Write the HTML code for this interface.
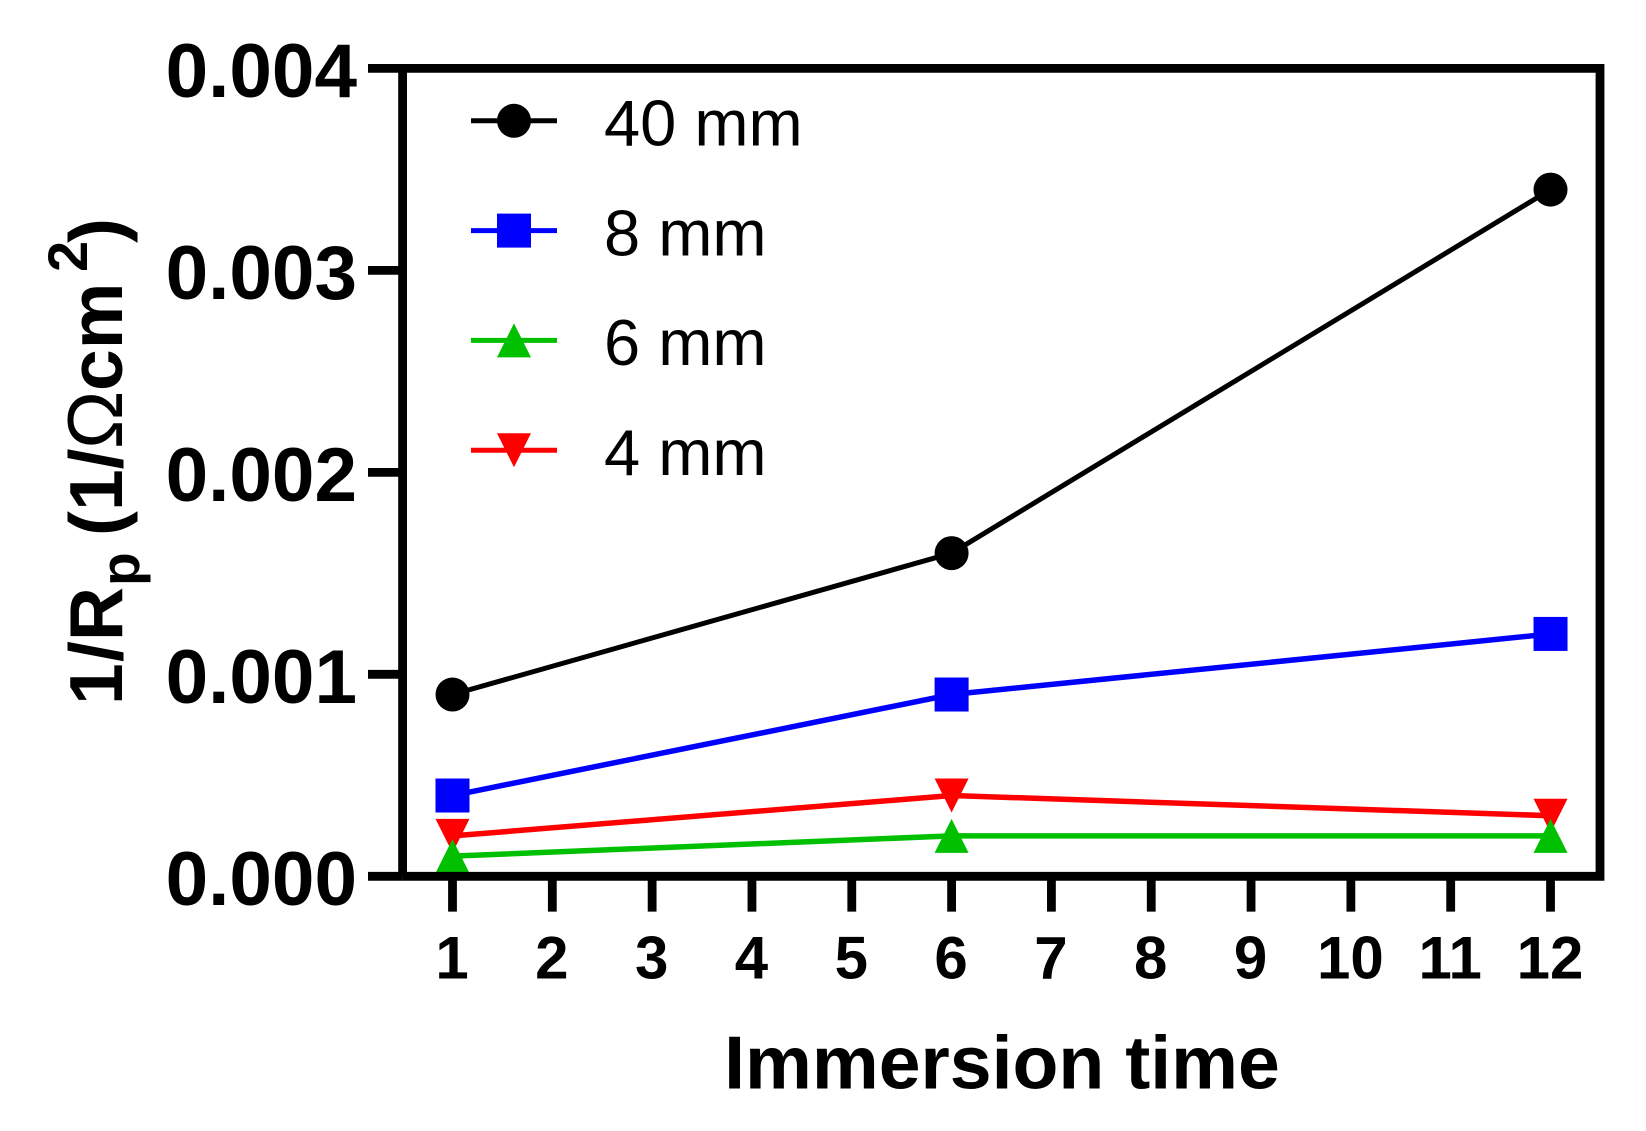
<!DOCTYPE html>
<html lang="en">
<head>
<meta charset="utf-8">
<title>1/Rp vs immersion time</title>
<style>
html,body{margin:0;padding:0;background:#fff;}
svg{display:block;font-family:"Liberation Sans",Arial,sans-serif;}
</style>
</head>
<body>
<svg id="chart" xmlns="http://www.w3.org/2000/svg" width="1646" height="1131" viewBox="0 0 1646 1131">
  <rect x="0" y="0" width="1646" height="1131" fill="#ffffff"/>
  <g id="series-layer"></g>
  <g id="axis-layer"></g>
  <g id="legend-layer"></g>
  <text x="1002" y="1088.5" font-size="75.2" font-weight="bold" text-anchor="middle" fill="#000">Immersion time</text>
  <text transform="translate(122,707) rotate(-90)" font-size="75" font-weight="bold" fill="#000"><tspan x="2" y="0">1</tspan><tspan x="45" y="0">/R</tspan><tspan x="121" y="17" font-size="55">p</tspan><tspan x="171" y="0">(1/</tspan><tspan x="258" y="0" font-weight="normal" font-size="78">Ω</tspan><tspan x="316" y="0">cm</tspan><tspan x="435" y="-35" font-size="56">2</tspan><tspan x="464" y="0">)</tspan></text>
</svg>
<script>
const xTickLabels = ["1","2","3","4","5","6","7","8","9","10","11","12"];
const yTickLabels = ["0.000","0.001","0.002","0.003","0.004"];
const yTickValues = [0, 0.001, 0.002, 0.003, 0.004];
const times = [1, 6, 12];
const seriesNames = ["40 mm", "8 mm", "6 mm", "4 mm"];
const values40mm = [0.0009, 0.0016, 0.0034];
const values8mm = [0.0004, 0.0009, 0.0012];
const values6mm = [0.0001, 0.0002, 0.0002];
const values4mm = [0.0002, 0.0004, 0.0003];

const NS = "http://www.w3.org/2000/svg";
const plot = {left: 402.6, right: 1600, top: 68.4, bottom: 876.3};
const xFirst = 452.5, xStep = 99.82;
function xScale(v){ return xFirst + (v - 1) * xStep; }
function yScale(v){ return plot.bottom - (v / 0.004) * (plot.bottom - plot.top); }

function make(tag, attrs, parent){
  const el = document.createElementNS(NS, tag);
  for (const k in attrs) el.setAttribute(k, attrs[k]);
  parent.appendChild(el);
  return el;
}

function marker(kind, cx, cy, color, parent){
  const r = 17;
  let el;
  if (kind === "circle") {
    el = make("circle", {cx: cx, cy: cy, r: r, fill: color}, parent);
  } else if (kind === "square") {
    el = make("rect", {x: cx - r, y: cy - r, width: 2 * r, height: 2 * r, fill: color}, parent);
  } else if (kind === "up") {
    el = make("polygon", {points: `${cx},${cy - r} ${cx + r},${cy + r} ${cx - r},${cy + r}`, fill: color}, parent);
  } else {
    el = make("polygon", {points: `${cx - r},${cy - r} ${cx + r},${cy - r} ${cx},${cy + r}`, fill: color}, parent);
  }
  return el;
}

const styles = {
  "40 mm": {values: values40mm, color: "#000000", kind: "circle", width: 5},
  "8 mm": {values: values8mm, color: "#0000ff", kind: "square", width: 5.5},
  "6 mm": {values: values6mm, color: "#00c000", kind: "up", width: 5.5},
  "4 mm": {values: values4mm, color: "#ff0000", kind: "down", width: 5.5}
};

/* series: red is painted before green, as in the reference */
const seriesLayer = document.getElementById("series-layer");
["40 mm", "8 mm", "4 mm", "6 mm"].forEach(function(name){
  const s = styles[name];
  const g = make("g", {}, seriesLayer);
  
  
  const pts = s.values.map(function(v, i){ return xScale(times[i]) + "," + yScale(v); }).join(" ");
  const line = make("polyline", {points: pts, fill: "none", stroke: s.color, "stroke-width": s.width}, g);
  
  
  s.values.forEach(function(v, i){
    const m = marker(s.kind, xScale(times[i]), yScale(v), s.color, g);
    
    
  });
});

/* axes */
const axisLayer = document.getElementById("axis-layer");
const frame = make("path", {
  d: `M${plot.left} ${plot.bottom}V${plot.top}H${plot.right}V${plot.bottom}H${plot.left}`,
  fill: "none", stroke: "#000", "stroke-width": 8.8
}, axisLayer);



yTickValues.forEach(function(v, i){
  const y = yScale(v);
  const t = make("line", {x1: 368, x2: plot.left, y1: y, y2: y, stroke: "#000", "stroke-width": 8.8}, axisLayer);
  
  
  const lab = make("text", {x: 357, y: y + 28.5, "font-size": 76.5, "font-weight": "bold", "text-anchor": "end", fill: "#000"}, axisLayer);
  lab.textContent = yTickLabels[i];
  
  
});

xTickLabels.forEach(function(label, i){
  const x = xScale(i + 1);
  const t = make("line", {x1: x, x2: x, y1: plot.bottom, y2: 911.6, stroke: "#000", "stroke-width": 8.8}, axisLayer);
  
  
  const lab = make("text", {x: x - 0.5, y: 978.6, "font-size": 60, "font-weight": "bold", "text-anchor": "middle", fill: "#000"}, axisLayer);
  lab.textContent = label;
  
  
});

/* legend */
const legendLayer = document.getElementById("legend-layer");
const legendFirstY = 120.8, legendStep = 109.8;
seriesNames.forEach(function(name, i){
  const s = styles[name];
  const y = legendFirstY + i * legendStep;
  const g = make("g", {}, legendLayer);
  
  
  const l = make("line", {x1: 471, x2: 557, y1: y, y2: y, stroke: s.color, "stroke-width": 5}, g);
  
  
  const m = marker(s.kind, 514, y, s.color, g);
  
  
  const t = make("text", {x: 604, y: y + 24.8, "font-size": 65, fill: "#000"}, g);
  t.textContent = name;
  
  
});
</script>
</body>
</html>
